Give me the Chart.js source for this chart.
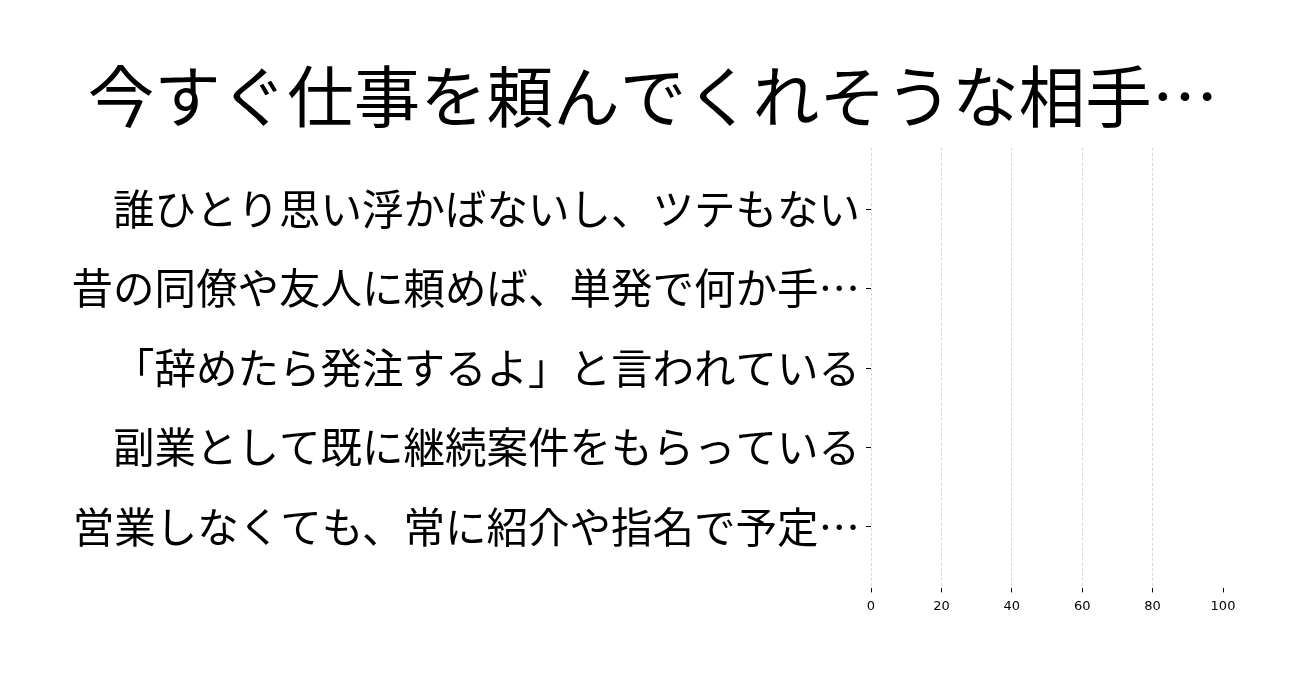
<!DOCTYPE html>
<html>
<head>
<meta charset="utf-8">
<script src="https://cdn.jsdelivr.net/npm/chart.js@4"></script>
<style>
    body { margin: 0; background: #fff; }
    #wrap { width: 1306px; height: 683px; }
</style>
</head>
<body>
<div id="wrap"><canvas id="grafico"></canvas></div>
<script>
const chartTitle = '今すぐ仕事を頼んでくれそうな相手…';
const categories = [
    '誰ひとり思い浮かばないし、ツテもない',
    '昔の同僚や友人に頼めば、単発で何か手…',
    '「辞めたら発注するよ」と言われている',
    '副業として既に継続案件をもらっている',
    '営業しなくても、常に紹介や指名で予定…'
];
const values = [0, 0, 0, 0, 0];
const xTicks = [0, 20, 40, 60, 80, 100];

// long y labels reach past the left padding, so widen the label clip box
const unclipLabels = {
    id: 'unclipLabels',
    afterLayout(chart) {
        chart.scales.y.left = 0;
    }
};

document.addEventListener('DOMContentLoaded', function() {
    const ctx = document.getElementById('grafico').getContext('2d');

    const data = {
        datasets: [{
            label: chartTitle,
            data: values.map((v, i) => ({ x: v, y: i })),
            backgroundColor: '#1f77b4',
            borderWidth: 0,
            barPercentage: 0.8,
            categoryPercentage: 1
        }]
    };

    const options = {
        indexAxis: 'y',
        responsive: true,
        maintainAspectRatio: false,
        animation: false,
        layout: {
            // same padding both sides so the title stays centred on the page
            padding: { left: 83, right: 83, top: 0, bottom: 63 }
        },
        scales: {
            x: {
                type: 'linear',
                min: 0,
                max: 100,
                afterBuildTicks: function(scale) {
                    scale.ticks = xTicks.map(v => ({ value: v }));
                },
                ticks: {
                    font: { family: 'DejaVu Sans', size: 13 },
                    color: '#000',
                    padding: 6
                },
                grid: {
                    color: ctx => ctx.tick && ctx.tick.value === 100 ? 'rgba(0,0,0,0)' : '#cccccc',
                    lineWidth: 0.8,
                    tickLength: 4,
                    tickColor: '#000',
                    tickWidth: 1
                },
                border: { display: false, dash: [3, 2] }
            },
            y: {
                type: 'linear',
                min: -0.774,
                max: 4.774,
                reverse: true,
                offset: false,
                afterBuildTicks: function(scale) {
                    scale.ticks = categories.map((_, i) => ({ value: i }));
                },
                afterFit: function(scale) {
                    scale.width = 871 - 83;
                },
                ticks: {
                    callback: value => categories[value],
                    font: { family: 'Noto Sans CJK JP', size: 41.5 },
                    color: '#000',
                    padding: 6
                },
                grid: {
                    offset: false,
                    drawOnChartArea: false,
                    tickLength: 5,
                    tickColor: '#000',
                    tickWidth: 1
                },
                border: { display: false }
            }
        },
        plugins: {
            legend: { display: false },
            tooltip: { enabled: false },
            title: {
                display: true,
                text: chartTitle,
                color: '#000',
                font: { family: 'Noto Sans CJK JP', size: 66.5, weight: 'normal' },
                padding: { top: 57, bottom: 11 }
            }
        }
    };

    new Chart(ctx, {
        type: 'bar',
        data: data,
        options: options,
        plugins: [unclipLabels]
    });
});
</script>
</body>
</html>
